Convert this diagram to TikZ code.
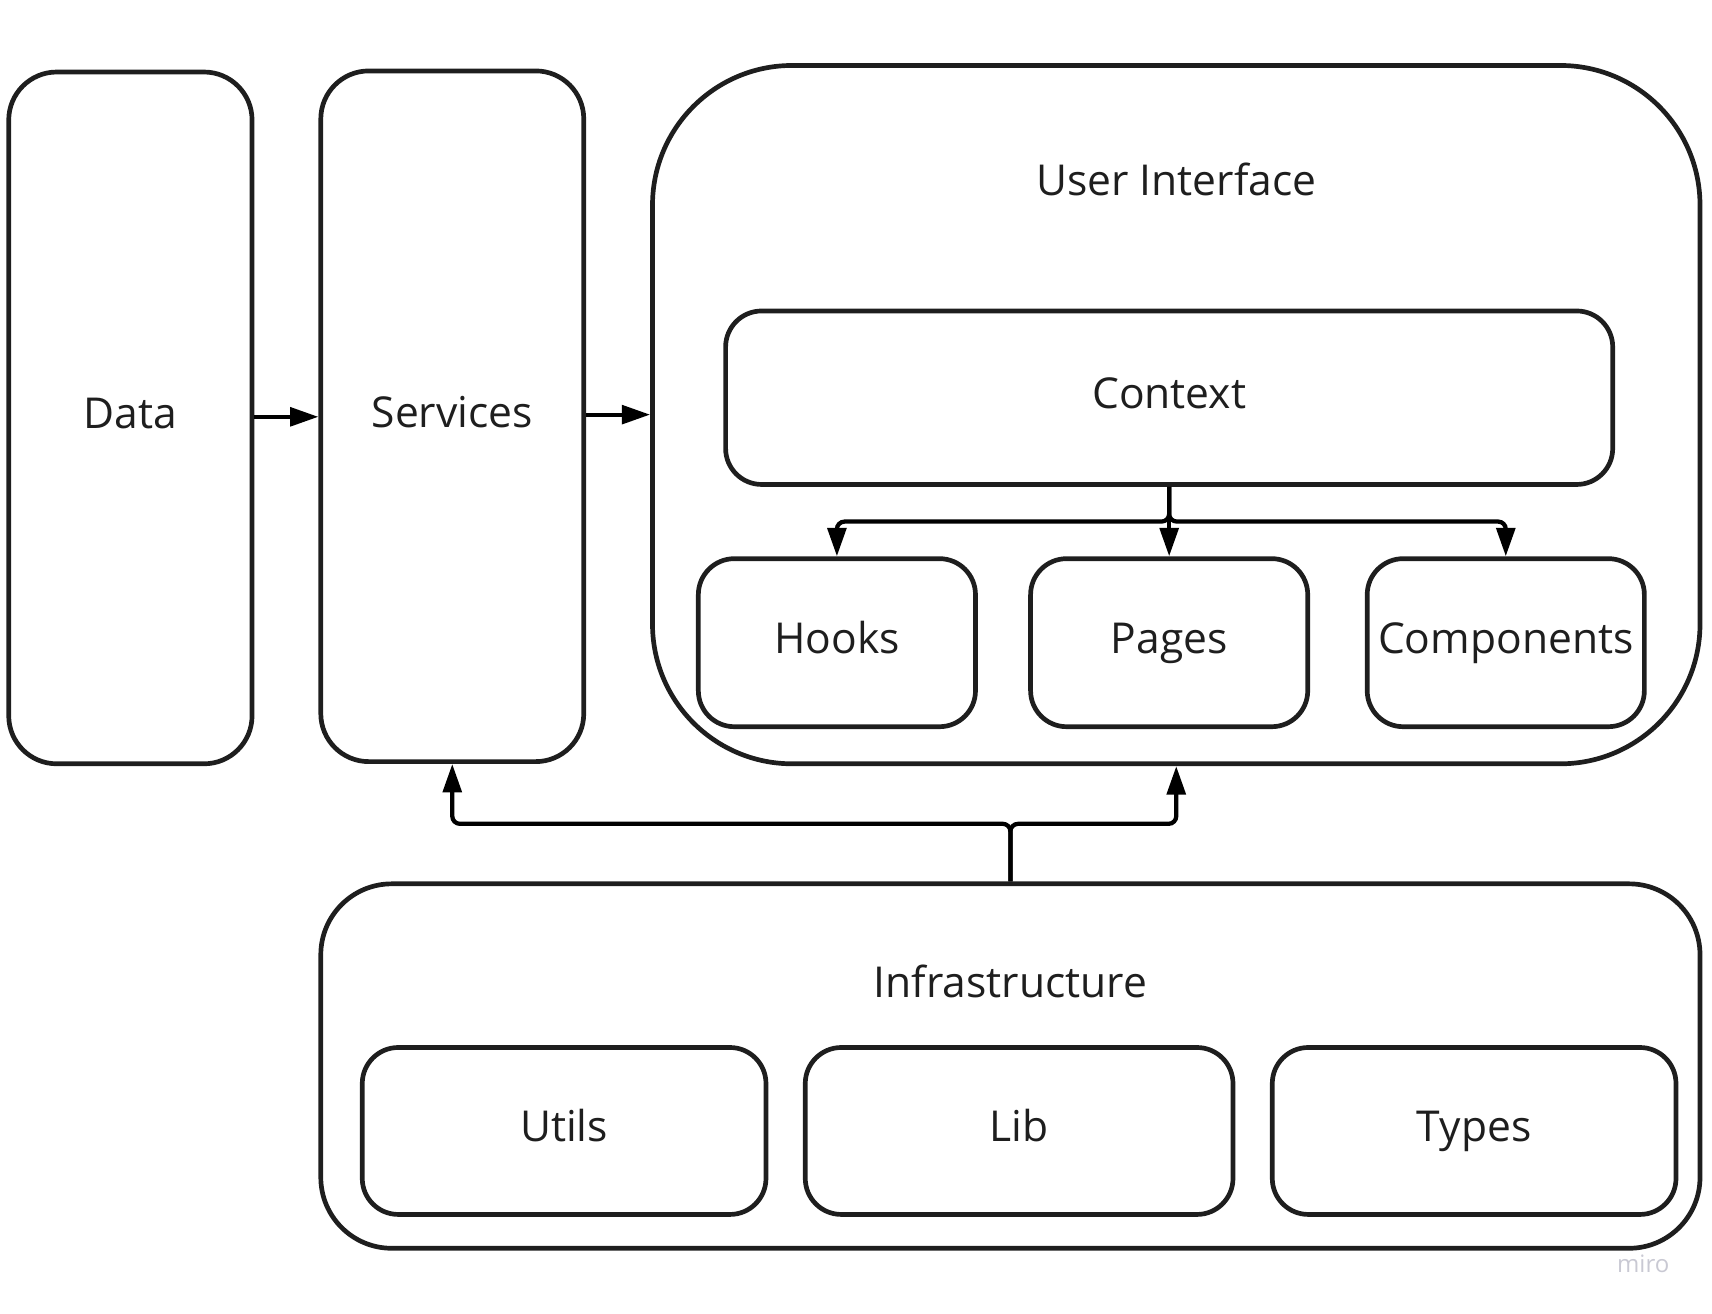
\documentclass[tikz,border=0pt]{standalone}
\usepackage{fontspec}
\setmainfont{Open Sans}
\usetikzlibrary{arrows.meta}
\definecolor{ink}{HTML}{1E1E1E}
\definecolor{wm}{HTML}{C9C9D3}
\tikzset{
  box/.style={draw=ink, line width=4.3pt, align=center, inner sep=0pt,
    font=\fontsize{39}{47}\selectfont, text=ink, text height=28pt, text depth=8pt},
  conn/.style={draw=black, line width=3.9pt, rounded corners=7pt,
    -{Triangle[length=26pt,width=17pt]}},
  lbl/.style={font=\fontsize{39}{47}\selectfont, text=ink, inner sep=0pt, text height=28pt, text depth=8pt}
}
\begin{document}
\begin{tikzpicture}[x=1pt,y=-1pt]
\useasboundingbox (0,0) rectangle (1569,1204);
% main columns
\node[box, minimum width=223pt, minimum height=634pt, rounded corners=44pt] (data) at (119.5,383) {Data};
\node[box, minimum width=241pt, minimum height=633pt, rounded corners=44pt] (services) at (414.5,381.5) {Services};
\node[box, minimum width=960pt, minimum height=640pt, rounded corners=128pt] (ui) at (1078,380) {};
\node[lbl] (uilabel) at (1078,169) {User Interface};
% UI contents
\node[box, minimum width=813pt, minimum height=159pt, rounded corners=33pt] (context) at (1071.5,364.5) {Context};
\node[box, minimum width=254pt, minimum height=154pt, rounded corners=33pt] (hooks) at (767,589) {Hooks};
\node[box, minimum width=254pt, minimum height=154pt, rounded corners=33pt] (pages) at (1071.5,589) {Pages};
\node[box, minimum width=254pt, minimum height=154pt, rounded corners=33pt] (components) at (1380,589) {Components};
% infrastructure
\node[box, minimum width=1264pt, minimum height=334pt, rounded corners=65pt] (infra) at (926,977) {};
\node[lbl] (infralabel) at (926,904) {Infrastructure};
\node[box, minimum width=370pt, minimum height=153pt, rounded corners=33pt] (utils) at (517,1036.5) {Utils};
\node[box, minimum width=392pt, minimum height=153pt, rounded corners=33pt] (lib) at (934,1036.5) {Lib};
\node[box, minimum width=370pt, minimum height=153pt, rounded corners=33pt] (types) at (1351,1036.5) {Types};
% connectors
\draw[conn] (data.east |- 0,382) -- (services.west |- 0,382);
\draw[conn] (services.east |- 0,380) -- (ui.west |- 0,380);
\coordinate (cs) at (1071.5,478);
\draw[conn] (context.south) -- (cs) -| (hooks.north);
\draw[conn] (context.south) -- (cs) -- (pages.north);
\draw[conn] (context.south) -- (cs) -| (components.north);
\coordinate (is) at (926,755);
\draw[conn] (infra.north) -- (is) -| (services.south);
\draw[conn] (infra.north) -- (is) -| (ui.south);
% watermark
\node[font=\fontsize{22}{26}\selectfont, text=wm, inner sep=0pt] (miro) at (1506,1158) {miro};
\end{tikzpicture}
\end{document}
